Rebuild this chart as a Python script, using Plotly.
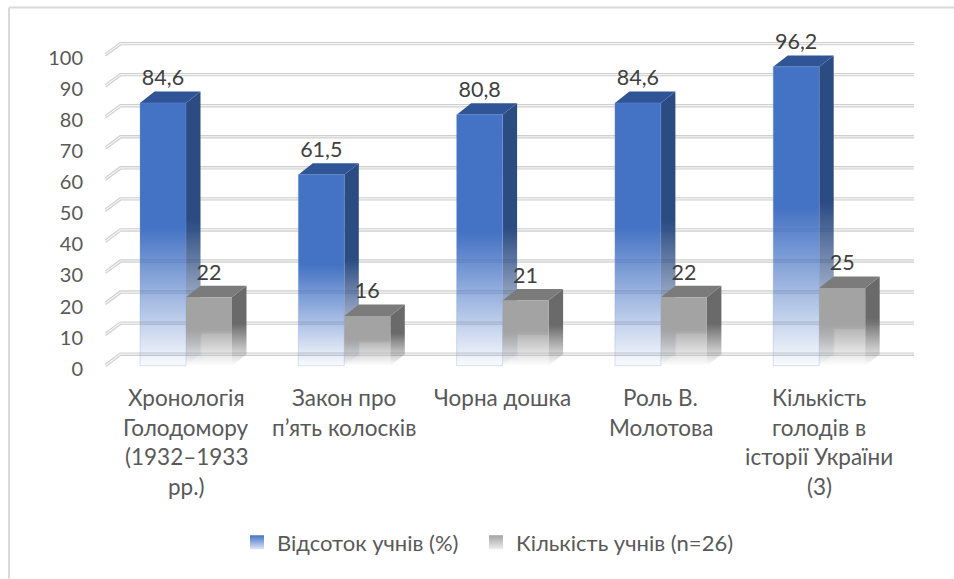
import plotly.graph_objects as go

categories = [
    ["Хронологія", "Голодомору", "(1932–1933", "рр.)"],
    ["Закон про", "п’ять колосків"],
    ["Чорна дошка"],
    ["Роль В.", "Молотова"],
    ["Кількість", "голодів в", "історії України", "(3)"],
]
percent_values = [84.6, 61.5, 80.8, 84.6, 96.2]
count_values = [22, 16, 21, 22, 25]
percent_labels = ["84,6", "61,5", "80,8", "84,6", "96,2"]
count_labels = ["22", "16", "21", "22", "25"]
y_ticks = list(range(0, 101, 10))
series_names = ["Відсоток учнів (%)", "Кількість учнів (n=26)"]

FONT = "Lato, 'Noto Sans', sans-serif"
W, H = 954, 579
PX_STEP, PX_FIRST = 158.3, 186.0
PX_UNIT = 3.11
PX_L, PX_R = 105, 920
PX_BASE = 366
Y_TOP = 110
Y_BOTTOM = -3
PLOT_W = PX_R - PX_L
PLOT_H = (Y_TOP - Y_BOTTOM) * PX_UNIT
PLOT_BOTTOM_PX = PX_BASE - Y_BOTTOM * PX_UNIT
BAR_W = 46 / PX_STEP
DX = 14.5 / PX_STEP
DY = 11.5 / PX_UNIT
GRID_L = (PX_L - PX_FIRST) / PX_STEP
GRID_R = (914 - PX_FIRST) / PX_STEP
GRID_DX = 15.5 / PX_STEP
TICK_SHIFT = 3 / PX_UNIT


def paper_x(px):
    return (px - PX_L) / PLOT_W


def paper_y(px):
    return (PLOT_BOTTOM_PX - px) / PLOT_H


def fade(rgb, low=0.05):
    c = lambda a: f"rgba({rgb[0]},{rgb[1]},{rgb[2]},{a})"
    return [[0, c(low)], [0.5, c(0.95)], [0.53, c(1)], [1, c(1)]]


BLUE = dict(front=(68, 114, 196), top="#2f5597", side=(43, 75, 131), edge="rgba(130,160,220,0.3)")
GRAY = dict(front=(163, 163, 163), top="#7b7b7b", side=(106, 106, 106), edge="rgba(0,0,0,0)")

fig = go.Figure()

# gridlines on the floor/back wall
gx, gy = [], []
for t in y_ticks:
    gx += [GRID_L, GRID_L + GRID_DX, GRID_R, None]
    gy += [t, t + DY, t + DY, None]
for width, colour in ((3.4, "#cfcfcf"), (1.2, "#f5f5f5")):
    fig.add_trace(go.Scatter(x=gx, y=gy, mode="lines", showlegend=False, hoverinfo="skip",
                             cliponaxis=False, line=dict(color=colour, width=width)))


def poly(xs, ys, name, **kw):
    fig.add_trace(go.Scatter(x=xs, y=ys, mode="lines", fill="toself", name=name,
                             showlegend=False, cliponaxis=False, **kw))


def bar3d(x0, v, name, st, inner=False):
    x1 = x0 + BAR_W
    # side
    poly([x1, x1 + DX, x1 + DX, x1, x1], [0, DY, v + DY, v, 0], name, line=dict(width=0),
         fillgradient=dict(type="vertical", colorscale=fade(st["side"], 0.0), start=0, stop=v + DY))
    # top
    poly([x0, x1, x1 + DX, x0 + DX, x0], [v, v, v + DY, v + DY, v], name, line=dict(width=0), fillcolor=st["top"])
    # front
    poly([x0, x1, x1, x0, x0], [0, 0, v, v, 0], name, line=dict(width=1, color=st["edge"]),
         fillgradient=dict(type="vertical", colorscale=fade(st["front"], 0.03 if not inner else 0.0), start=0, stop=v))
    if inner:
        xm = x0 + BAR_W / 3
        poly([xm, x1, x1, xm, xm], [0, 0, 0.47 * v, 0.47 * v, 0], name, line=dict(width=0),
             fillcolor="rgba(255,255,255,0.12)")


for i, (p, c) in enumerate(zip(percent_values, count_values)):
    bar3d(i - BAR_W, p, series_names[0], BLUE)
    bar3d(i, c, series_names[1], GRAY, inner=True)

# data labels
LABEL_UP = 23 / PX_UNIT
idx = list(range(len(categories)))
fig.add_trace(go.Scatter(
    x=[i - BAR_W / 2 for i in idx], y=[v + LABEL_UP for v in percent_values], text=percent_labels,
    mode="text", textposition="middle center", showlegend=False, cliponaxis=False, hoverinfo="skip",
    textfont=dict(family=FONT, size=21.5, color="#404040")))
fig.add_trace(go.Scatter(
    x=[i + BAR_W / 2 for i in idx], y=[v + LABEL_UP for v in count_values], text=count_labels,
    mode="text", textposition="middle center", showlegend=False, cliponaxis=False, hoverinfo="skip",
    textfont=dict(family=FONT, size=21.5, color="#404040")))

# legend entries
for name, col, end, lg in ((series_names[0], "#4472c4", "#dfe6f5", "legend"),
                           (series_names[1], "#a3a3a3", "#eeeeee", "legend2")):
    fig.add_trace(go.Scatter(x=[None], y=[None], mode="markers", name=name, legend=lg,
                             marker=dict(symbol="square", size=14, color=col, line=dict(width=0),
                                         gradient=dict(type="vertical", color=end))))

# category labels, one text per line to keep the reference line spacing
annotations = []
for i, lines in enumerate(categories):
    for j, line in enumerate(lines):
        annotations.append(dict(x=i, y=0, xref="x", yref="y", text=line, showarrow=False,
                                xanchor="center", yanchor="middle", yshift=-(32 + 29.6 * j),
                                font=dict(family=FONT, size=22.5, color="#595959")))

legend_common = dict(orientation="h", y=paper_y(543), xanchor="left", yanchor="middle",
                     font=dict(family=FONT, size=22, color="#595959"), bgcolor="rgba(0,0,0,0)",
                     itemclick=False, itemdoubleclick=False)

fig.update_layout(
    width=W, height=H, paper_bgcolor="white", plot_bgcolor="white",
    margin=dict(l=PX_L, r=W - PX_R, t=PLOT_BOTTOM_PX - PLOT_H, b=H - PLOT_BOTTOM_PX, pad=0),
    font=dict(family=FONT, size=20, color="#595959"),
    xaxis=dict(range=[(PX_L - PX_FIRST) / PX_STEP, (PX_R - PX_FIRST) / PX_STEP], visible=False, fixedrange=True),
    yaxis=dict(range=[Y_BOTTOM, Y_TOP], tickvals=[t - TICK_SHIFT for t in y_ticks], ticktext=[str(t) for t in y_ticks],
               showgrid=False, zeroline=False, showline=False, ticks="", ticklabelstandoff=21,
               tickfont=dict(family=FONT, size=20, color="#595959"), fixedrange=True),
    legend=dict(x=paper_x(237), **legend_common),
    legend2=dict(x=paper_x(476), **legend_common),
    annotations=annotations,
    shapes=[
        dict(type="line", xref="paper", yref="paper", x0=paper_x(9), x1=paper_x(9), y0=paper_y(H), y1=paper_y(7.5),
             line=dict(color="#d9d9d9", width=2)),
        dict(type="line", xref="paper", yref="paper", x0=paper_x(9), x1=paper_x(W), y0=paper_y(7.5), y1=paper_y(7.5),
             line=dict(color="#d9d9d9", width=2)),
    ],
)
fig.update_xaxes(automargin=False)
fig.update_yaxes(automargin=False)

fig.write_html("out.html", config=dict(displayModeBar=False), post_script="document.body.style.margin='0';")
